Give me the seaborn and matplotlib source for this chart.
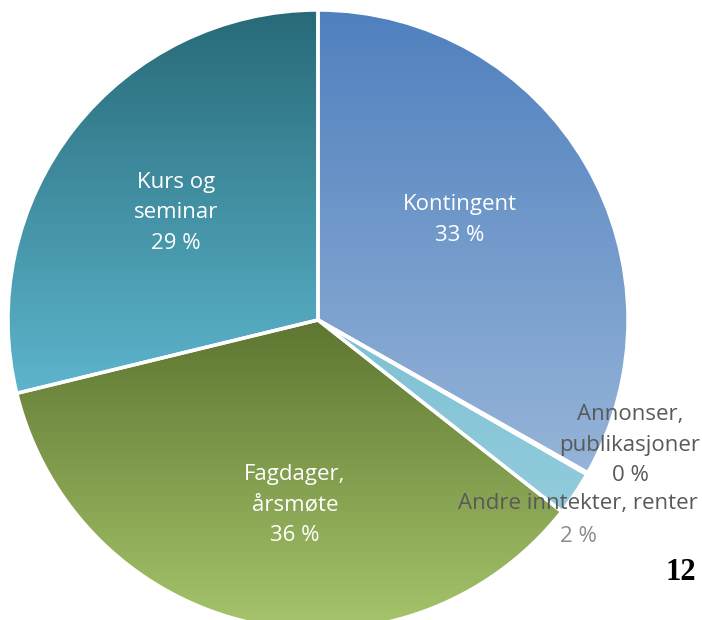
import numpy as np
import seaborn as sns
import matplotlib.pyplot as plt
from matplotlib.colors import LinearSegmentedColormap

sns.set_theme(style="white")
plt.rcParams['font.family'] = ['Open Sans', 'DejaVu Sans']

# income shares (percent), clockwise from 12 o'clock
categories = ['Kontingent', 'Annonser,\npublikasjoner', 'Andre inntekter, renter',
              'Fagdager,\nårsmøte', 'Kurs og\nseminar']
shares = [33.2, 0.1, 2.3, 35.6, 28.8]

# gradient top -> bottom for each slice
grad_top = ['#4f80be', '#7fb4d2', '#7ec0d4', '#5e7631', '#276a78']
grad_bot = ['#96b4d8', '#8fc6da', '#92ccdc', '#a6c56b', '#5db5cd']

W, H = 702, 620
fig = plt.figure(figsize=(W / 100, H / 100), dpi=100)
ax = fig.add_axes([0, 0, 1, 1])

cx, cy, r = 318, H - 320, 310
wedges, _ = ax.pie(shares, startangle=90, counterclock=False, center=(cx, cy),
                   radius=r, colors=grad_bot, frame=True,
                   wedgeprops=dict(edgecolor='white', linewidth=2.5))
ax.set_xlim(0, W)
ax.set_ylim(0, H)
ax.set_aspect('equal')
ax.axis('off')

grad = np.linspace(0, 1, 256).reshape(-1, 1)
for w, c0, c1 in zip(wedges, grad_top, grad_bot):
    w.set_zorder(3)
    w.set_facecolor('none')
    bb = w.get_path().get_extents(w.get_patch_transform())
    cmap = LinearSegmentedColormap.from_list('g', [c0, c1])
    im = ax.imshow(grad, cmap=cmap, aspect='auto', origin='upper',
                   extent=[bb.x0, bb.x1, bb.y0, bb.y1], zorder=2,
                   interpolation='bilinear')
    im.set_clip_path(w)

# labels
pct = [f"{round(s)} %" for s in shares]
fs = 16
ls = 1.62
inside = dict(color='white', fontsize=fs, ha='center', va='center', zorder=5,
              linespacing=ls)
ax.text(460, H - 220, categories[0] + '\n' + pct[0], **inside)
ax.text(176, H - 213, categories[4] + '\n' + pct[4], **inside)
ax.text(295, H - 505, categories[3] + '\n' + pct[3], **inside)

ax.text(630, H - 445, categories[1] + '\n' + pct[1], color='#595959', fontsize=fs,
        ha='center', va='center', linespacing=ls, zorder=5)
ax.text(578, H - 504, categories[2], color='#595959', fontsize=fs,
        ha='center', va='center', zorder=5)
ax.text(578, H - 537, pct[2], color='#8c8c8c', fontsize=fs,
        ha='center', va='center', zorder=5)

ax.text(681, H - 572, '12', color='black', fontsize=22, family='Liberation Serif',
        fontweight='bold', ha='center', va='center', zorder=5)

fig.savefig('out.png', dpi=100)
